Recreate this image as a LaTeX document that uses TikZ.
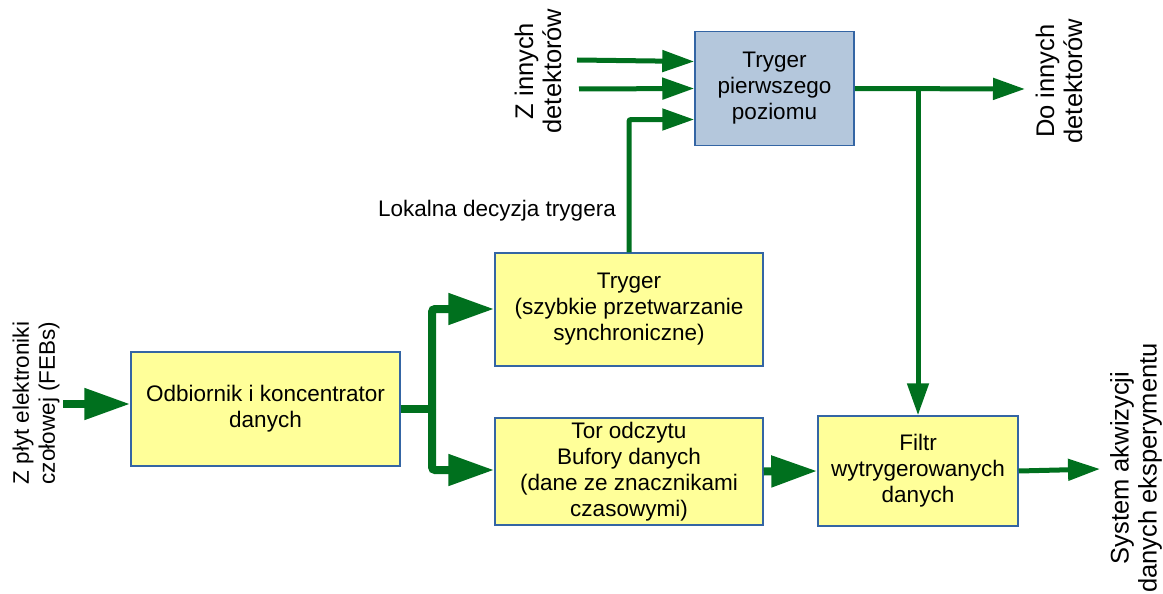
\documentclass[tikz,border=0pt]{standalone}
\usepackage{fontspec}
\setmainfont{Liberation Sans}
\usepackage{xcolor}
\usepackage{tikz}
\usetikzlibrary{arrows.meta, positioning}
\definecolor{boxyellow}{RGB}{255,255,153}
\definecolor{boxblue}{RGB}{180,199,220}
\definecolor{boxline}{RGB}{52,101,164}
\definecolor{flowgreen}{RGB}{0,112,30}

\begin{document}
\begin{tikzpicture}[x=1pt, y=-1pt,
    block/.style={rectangle, draw=boxline, line width=1.5pt, fill=boxyellow, align=center,
        inner sep=0pt, font=\fontsize{22.5}{26}\selectfont},
    fatedge/.style={draw=flowgreen, line width=8pt, -{Triangle[length=46pt, width=30pt]}},
    fatline/.style={draw=flowgreen, line width=8pt, rounded corners=3pt},
    edge/.style={draw=flowgreen, line width=5pt, -{Triangle[length=32pt, width=21pt]}},
    txt/.style={align=center, inner sep=0pt, font=\fontsize{22.5}{26}\selectfont},
    rtxt/.style={txt, rotate=90},
    bigrtxt/.style={rtxt, font=\fontsize{25.5}{28}\selectfont}
    ]
    \useasboundingbox (0,0) rectangle (1163,594);

    % 方框
    \node[block, minimum width=269pt, minimum height=114pt] (odb) at (265.5,409) {Odbiornik i koncentrator\\danych};
    \node[block, minimum width=268pt, minimum height=113pt] (tr) at (629,309.5) {Tryger\\(szybkie przetwarzanie\\synchroniczne)};
    \node[block, minimum width=268pt, minimum height=107pt] (tor) at (629,471.5) {Tor odczytu\\Bufory danych\\(dane ze znacznikami\\czasowymi)};
    \node[block, minimum width=200pt, minimum height=110pt] (fil) at (918,471) {Filtr\\wytrygerowanych\\danych};
    \node[block, fill=boxblue, minimum width=159pt, minimum height=114pt] (tp) at (774.5,88.5) {Tryger\\pierwszego\\poziomu};

    % 文字
    \node[rtxt] (feb) at (36,403) {Z płyt elektroniki\\czołowej (FEBs)};
    \node[bigrtxt] (zin) at (538,71) {Z innych\\detektorów};
    \node[bigrtxt] (doin) at (1059,81) {Do innych\\detektorów};
    \node[bigrtxt] (sys) at (1136,468) {System akwizycji\\danych eksperymentu};
    \node[txt] (lok) at (497,211) {Lokalna decyzja trygera};

    % 端点
    \coordinate (in) at (63,404);
    \coordinate (split) at (432,409);
    \coordinate (z1) at (577,60);
    \coordinate (z2) at (579,89);
    \coordinate (out1) at (1025,89);
    \coordinate (out2) at (1100,469);

    % 箭头
    \draw[fatedge] (in) -- (in -| odb.west);
    \draw[fatline] (odb.east) -- (split);
    \draw[fatedge, rounded corners=3pt] (split) |- ([yshift=0.5pt]tr.west);
    \draw[fatedge, rounded corners=3pt] (split) |- ([yshift=1.5pt]tor.west);
    \draw[edge, rounded corners=2pt] (tr.north) |- ([yshift=-31pt]tp.west);
    \draw[edge] (z1) -- ([yshift=27pt]tp.west);
    \draw[edge] (z2) -- (tp.west);
    \draw[edge] (tp.east) -- (out1);
    \draw[edge] (tp.east -| fil.north) -- (fil.north);
    \draw[fatedge] (tor.east) -- (fil.west);
    \draw[edge] (fil.east) -- (out2);

\end{tikzpicture}
\end{document}
